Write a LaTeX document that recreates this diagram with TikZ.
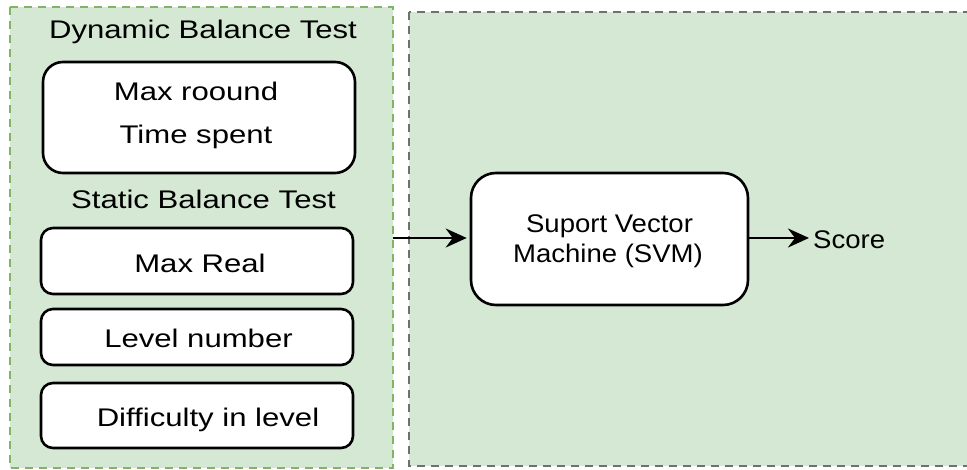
\documentclass[tikz,border=0pt]{standalone}
\usepackage{fontspec}
\setmainfont{Liberation Sans}
\newfontfamily\wideface[FakeStretch=1.22]{Liberation Sans}
\newfontfamily\normface[FakeStretch=1.08]{Liberation Sans}
\usetikzlibrary{arrows.meta}
\definecolor{panelfill}{HTML}{D5E8D4}
\definecolor{panelgreen}{HTML}{82B366}
\definecolor{panelgray}{HTML}{707070}
\tikzset{
  panelA/.style={fill=panelfill, draw=panelgreen, line width=2.5pt, dash pattern=on 8pt off 6pt},
  panelB/.style={fill=panelfill, draw=panelgray, line width=2.5pt, dash pattern=on 8pt off 6pt},
  itembox/.style={fill=white, draw=black, line width=2.6pt, rounded corners=#1},
  itembox/.default=12pt,
  ltext/.style={anchor=base, font=\wideface\fontsize{25.5}{30}\selectfont},
  rtext/.style={anchor=base, font=\normface\fontsize{25.5}{30}\selectfont},
  flow/.style={line width=2.4pt, -{Stealth[length=21pt,width=19pt,inset=7pt]}}
}
\begin{document}
\begin{tikzpicture}[x=1pt,y=-1pt]
\useasboundingbox (0,0) rectangle (967,470);
\clip (0,0) rectangle (967,470);

% containers
\draw[panelA] (10,7) rectangle (393,468);
\coordinate (lpE) at (393,238);
\draw[panelB] (409,12) rectangle (985,466);

% dynamic balance group
\node[ltext] (dynT) at (203,39) {Dynamic Balance Test};
\draw[itembox=20pt] (43,62) rectangle (355,173);
\node[ltext] (maxr) at (196,100.5) {Max roound};
\node[ltext] (tspent) at (196,144) {Time spent};

% static balance group
\node[ltext] (statT) at (203.5,209) {Static Balance Test};
\draw[itembox] (41,228) rectangle (353,294);
\node[ltext] (mreal) at (200,272.5) {Max Real};
\draw[itembox] (41,309) rectangle (353,365);
\node[ltext] (lvl) at (198.5,348) {Level number};
\draw[itembox] (41,383) rectangle (353,448);
\node[ltext] (diff) at (208,426.5) {Difficulty in level};

% classifier
\node[draw=black, fill=white, line width=2.6pt, rounded corners=25pt,
      minimum width=277pt, minimum height=132pt, inner sep=0pt] (svm) at (609.5,239) {};
\node[rtext] (svm1) at (609.5,233) {Suport Vector};
\node[rtext] (svm2) at (608,263) {Machine (SVM)};
\node[rtext, anchor=base west, inner sep=0pt] (score) at (813,249) {Score};

% connectors
\draw[flow, shorten >=3pt] (lpE) -- (svm.west |- lpE);
\draw[flow, shorten >=4pt] (svm.east |- lpE) -- (score.west |- lpE);
\end{tikzpicture}
\end{document}
